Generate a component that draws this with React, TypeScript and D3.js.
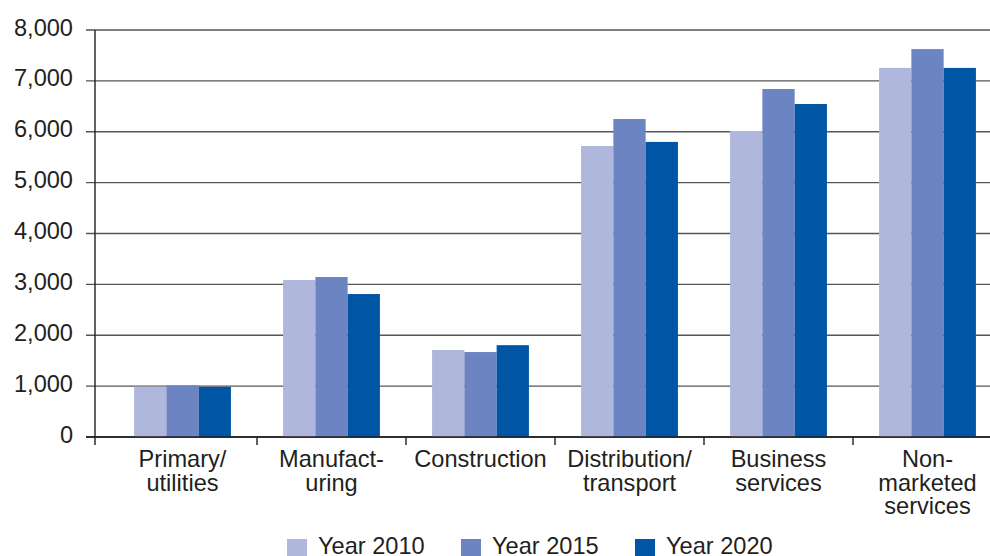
import React from "react";
import * as d3 from "d3";

const categories = [
  ["Primary/", "utilities"],
  ["Manufact-", "uring"],
  ["Construction"],
  ["Distribution/", "transport"],
  ["Business", "services"],
  ["Non-", "marketed", "services"],
];
const seriesNames = ["Year 2010", "Year 2015", "Year 2020"];
const year2010 = [990, 3085, 1710, 5720, 6015, 7255];
const year2015 = [1015, 3145, 1670, 6250, 6840, 7625];
const year2020 = [985, 2810, 1805, 5800, 6545, 7255];
const yTicks = [0, 1000, 2000, 3000, 4000, 5000, 6000, 7000, 8000];
const colors = ["#afb8dc", "#6d84c2", "#0055a5"];

const W = 990;
const H = 556;

export default function App() {
  const series = [year2010, year2015, year2020];
  const y = d3.scaleLinear().domain([0, 8000]).range([437, 30]);
  const idx = categories.map((_, i) => i);
  const x0 = d3
    .scaleBand<number>()
    .domain(idx)
    .range([108, 1002])
    .paddingInner(0.35)
    .paddingOuter(0.175);
  const x1 = d3
    .scaleBand<number>()
    .domain([0, 1, 2])
    .range([0, x0.bandwidth()]);
  const step = x0.step();
  const boundaries = idx.slice(1).map((i) => 108 + step * i);
  const fmt = d3.format(",");
  const font = "'Liberation Sans', Arial, sans-serif";
  const textColor = "#231f20";
  const fs = 23.6;

  const legendX = [287, 461, 635];

  return (
    <svg
      width={W}
      height={H}
      style={{ position: "absolute", left: 0, top: 0 }}
      fontFamily={font}
    >
      <rect width={W} height={H} fill="#fff" />
      {yTicks.map((t) => (
        <line
          key={"g" + t}
          x1={86}
          x2={990}
          y1={y(t)}
          y2={y(t)}
          stroke={t === 0 ? "#231f20" : "#555"}
          strokeWidth={1.4}
        />
      ))}
      {yTicks.map((t) => (
        <text
          key={"l" + t}
          x={73}
          y={y(t) + 5.5}
          textAnchor="end"
          fontSize={fs}
          fill={textColor}
        >
          {fmt(t)}
        </text>
      ))}
      {idx.map((ci) =>
        series.map((s, si) => (
          <rect
            key={ci + "-" + si}
            x={(x0(ci) as number) + (x1(si) as number)}
            y={y(s[ci])}
            width={x1.bandwidth()}
            height={y(0) - y(s[ci])}
            fill={colors[si]}
          />
        ))
      )}
      <line x1={95} x2={95} y1={30} y2={445} stroke="#231f20" strokeWidth={1.4} />
      <line x1={86} x2={990} y1={437} y2={437} stroke="#231f20" strokeWidth={1.4} />
      {boundaries.map((b, i) => (
        <line key={"t" + i} x1={b} x2={b} y1={437} y2={445} stroke="#231f20" strokeWidth={1.4} />
      ))}
      {categories.map((lines, ci) => (
        <text key={"c" + ci} textAnchor="middle" fontSize={fs} fill={textColor}>
          {lines.map((ln, li) => (
            <tspan
              key={li}
              x={(x0(ci) as number) + x0.bandwidth() / 2}
              y={467 + li * 23.5}
            >
              {ln}
            </tspan>
          ))}
        </text>
      ))}
      {seriesNames.map((n, i) => (
        <g key={"lg" + i}>
          <rect x={legendX[i]} y={539} width={20} height={20} fill={colors[i]} />
          <text x={legendX[i] + 31} y={554} fontSize={fs} fill={textColor}>
            {n}
          </text>
        </g>
      ))}
    </svg>
  );
}
